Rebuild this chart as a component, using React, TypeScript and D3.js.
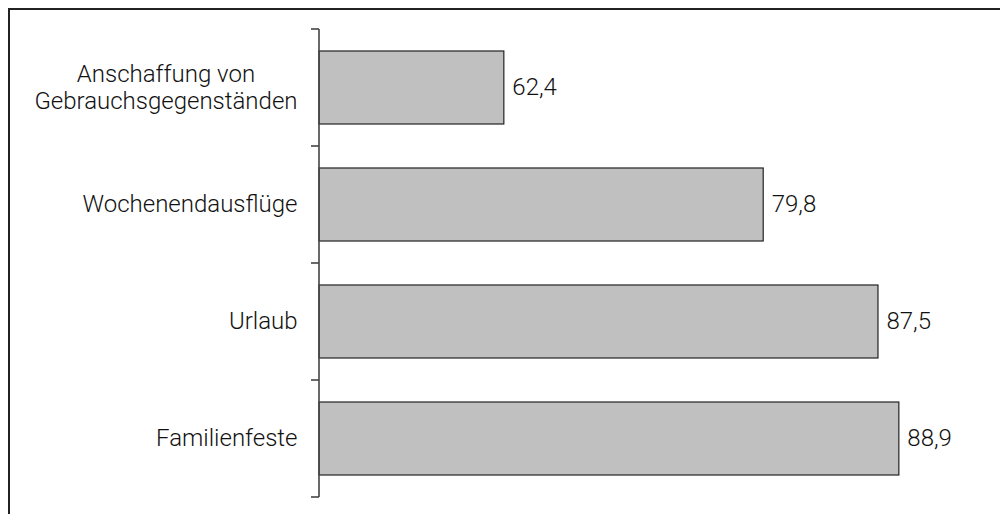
import React from "react";
import * as d3 from "d3";

const categories: string[][] = [
  ["Anschaffung von", "Gebrauchsgegenständen"],
  ["Wochenendausflüge"],
  ["Urlaub"],
  ["Familienfeste"],
];
const values: number[] = [62.4, 79.8, 87.5, 88.9];
const valueLabels: string[] = ["62,4", "79,8", "87,5", "88,9"];
const xDomain: [number, number] = [50, 90];

const FS = 24;
const FAMILY = "Roboto, 'Liberation Sans', Arial, sans-serif";
const FONT = `300 ${FS}px ${FAMILY}`;

function measure(text: string): number {
  if (typeof document === "undefined") return text.length * 11;
  const c = document.createElement("canvas");
  const ctx = c.getContext("2d");
  if (!ctx) return text.length * 11;
  ctx.font = FONT;
  return ctx.measureText(text).width;
}

export default function App() {
  const W = 1000;
  const H = 514;
  const axisX = 319;
  const ids = categories.map((_, i) => String(i));

  const y = d3
    .scaleBand<string>()
    .domain(ids)
    .range([29, 497])
    .paddingInner(0.376)
    .paddingOuter(0.188);

  const x = d3.scaleLinear().domain(xDomain).range([axisX, axisX + 14.906 * (xDomain[1] - xDomain[0])]);

  const step = y.step();
  const tickYs = d3.range(categories.length + 1).map((i) => 29 + i * step);
  const labelRight = 297.5;
  const lineH = 27;

  return (
    <svg
      width={W}
      height={H}
      style={{ position: "absolute", left: 0, top: 0, display: "block" }}
      fontFamily={FAMILY}
      fontWeight={300}
    >
      <rect x={0} y={0} width={W} height={H} fill="#fff" />
      <path d={`M9,${H} V9 H${W}`} fill="none" stroke="#222" strokeWidth={2} />

      {ids.map((id, i) => {
        const y0 = y(id) as number;
        const bw = y.bandwidth();
        const cy = y0 + bw / 2;
        const lines = categories[i];
        const maxW = Math.max(...lines.map(measure));
        const cx = labelRight - maxW / 2;
        const firstBase = cy + FS * 0.33 - ((lines.length - 1) * lineH) / 2;
        return (
          <g key={id}>
            <rect
              x={x(xDomain[0])}
              y={y0}
              width={x(values[i]) - x(xDomain[0])}
              height={bw}
              fill="#c0c0c0"
              stroke="#222"
              strokeWidth={1.2}
            />
            <text
              x={x(values[i]) + 8.5}
              y={cy}
              dy="0.33em"
              fontSize={FS}
              fill="#111"
            >
              {valueLabels[i]}
            </text>
            <text fontSize={FS} fill="#111" textAnchor="middle">
              {lines.map((ln, j) => (
                <tspan key={j} x={cx} y={firstBase + j * lineH}>
                  {ln}
                </tspan>
              ))}
            </text>
          </g>
        );
      })}

      <line x1={axisX} x2={axisX} y1={tickYs[0]} y2={tickYs[tickYs.length - 1]} stroke="#444" strokeWidth={1.6} />
      {tickYs.map((ty, i) => (
        <line key={i} x1={axisX - 8} x2={axisX} y1={ty} y2={ty} stroke="#444" strokeWidth={1.6} />
      ))}
    </svg>
  );
}
